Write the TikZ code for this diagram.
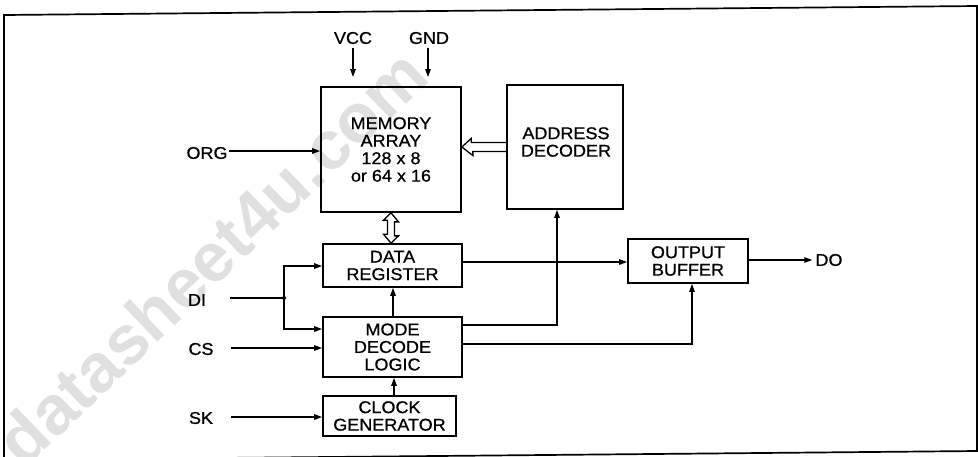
\documentclass[tikz,border=0pt]{standalone}
\usepackage{fontspec}
\setmainfont{Liberation Sans}
\newfontfamily\diagfont{Liberation Sans}[FakeStretch=1.06,FakeBold=0.8]
\newfontfamily\wmfont{Liberation Sans Bold}
\usetikzlibrary{arrows.meta,calc}
\begin{document}
\begin{tikzpicture}[x=1pt,y=-1pt,
  box/.style={draw,line width=1.7pt,inner sep=0pt,align=center,font=\diagfont\fontsize{17}{17.5}\selectfont},
  lbl/.style={inner sep=0pt,align=center,font=\diagfont\fontsize{17}{17.5}\selectfont},
  conn/.style={line width=1.3pt,-{Triangle[length=8pt,width=5.5pt]}},
  wire/.style={line width=1.3pt},
  hollow/.style={line width=1.3pt,line join=miter}]
\useasboundingbox (0,0) rectangle (978,456);
% watermark
\node[font=\wmfont\fontsize{69}{69}\selectfont,text=black!12,rotate=43.8,inner sep=0pt] (wm) at (211,257) {datasheet4u.com};
% frame
\draw[line width=1.7pt] (4,15) -- (977,6) -- (977,451) -- (4,460) -- cycle;
% blocks
\node[box,minimum width=140pt,minimum height=125pt] (mem) at (391,149.5) {MEMORY\\ARRAY\\128 x 8\\or 64 x 16};
\node[box,minimum width=116pt,minimum height=124pt] (adr) at (565,147) {};
\node[lbl] (adrt) at (566,142) {ADDRESS\\DECODER};
\node[box,minimum width=139pt,minimum height=43pt] (dreg) at (392.5,265.5) {DATA\\REGISTER};
\node[box,minimum width=139pt,minimum height=60pt] (mode) at (392.5,347) {MODE\\DECODE\\LOGIC};
\node[box,minimum width=133pt,minimum height=40pt] (clk) at (389.5,416) {CLOCK\\GENERATOR};
\node[box,minimum width=120pt,minimum height=44pt] (obuf) at (688,261) {OUTPUT\\BUFFER};
% labels
\node[lbl] (vcc) at (353,38) {VCC};
\node[lbl] (gnd) at (429,38) {GND};
\node[lbl] (org) at (207,153) {ORG};
\node[lbl] (di) at (197,300) {DI};
\node[lbl] (cs) at (201,349) {CS};
\node[lbl] (sk) at (201,418) {SK};
\node[lbl] (do) at (829,260) {DO};
% coordinates
\coordinate (vccend) at (353,77);
\coordinate (gndend) at (428,77);
\coordinate (j) at (284,298);
% supply arrows
\draw[conn] ([yshift=-4pt]vcc.south) -- (vccend);
\draw[conn] ([yshift=-4pt]gnd.south -| gndend) -- (gndend);
% ORG
\draw[conn] ($(org.east)+(1,-2)$) -- (mem.west |- 0,151);
% DI
\draw[wire] ($(di.east)+(24,-2)$) -- (j);
\draw[conn] (j) |- (dreg.west |- 0,266);
\draw[conn] (j) |- (mode.west |- 0,329);
\fill (j) circle (2pt);
% CS, SK
\draw[conn] ($(cs.east)+(17,-1)$) -- (mode.west |- 0,348);
\draw[conn] ($(sk.east)+(18,-1)$) -- (clk.west |- 0,417);
% internal
\draw[conn] (clk.north -| 394,0) -- (mode.south -| 394,0);
\draw[conn] (mode.north -| 393,0) -- (dreg.south -| 393,0);
\draw[conn] (dreg.east |- 0,262) -- (obuf.west |- 0,262);
\draw[conn] (obuf.east |- 0,260) -- ($(do.west)+(-3,0)$);
\draw[conn] (mode.east |- 0,325) -| (adr.south -| 557,0);
\draw[conn] (mode.east |- 0,344) -| (obuf.south -| 692,0);
% hollow bus arrows
\draw[hollow] (adr.west |- 0,142.5) -- ++(-35,0) -- ++(0,-4) -- (mem.east |- 0,147) -- ++(11,8.5) -- ++(0,-4) -- (adr.west |- 0,151.5);
\draw[hollow] (mem.south -| 391,0) -- ++(7.5,9) -- ++(-4,0) -- ++(0,14) -- ++(4,0) -- (dreg.north -| 391,0) -- ++(-7.5,-9) -- ++(4,0) -- ++(0,-14) -- ++(-4,0) -- cycle;
\end{tikzpicture}
\end{document}
